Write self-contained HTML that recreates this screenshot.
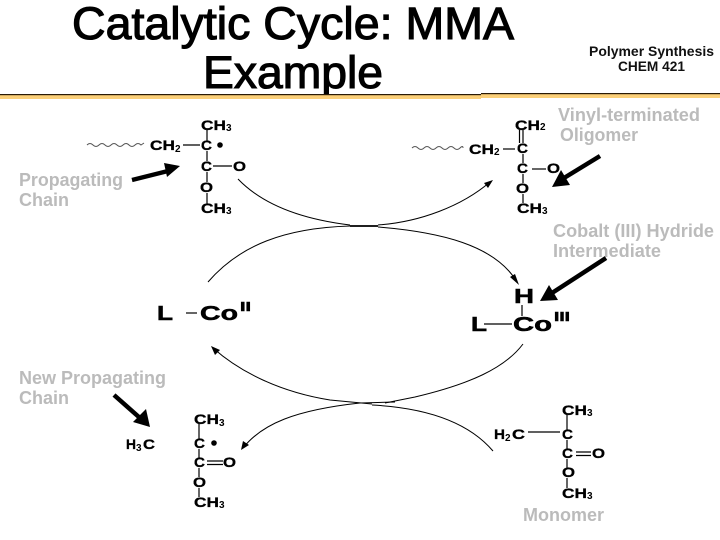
<!DOCTYPE html>
<html>
<head>
<meta charset="utf-8">
<style>
html,body{margin:0;padding:0;background:#fff;width:720px;height:540px;overflow:hidden}
svg{display:block}
text{font-family:"Liberation Sans",sans-serif}
.t{font-size:45px;font-weight:normal;fill:#000;stroke:#000;stroke-width:1.1}
.h{font-size:14px;font-weight:bold;fill:#111}
.g{font-size:18px;font-weight:bold;fill:#bbb}
.c{font-size:14px;font-weight:bold;fill:#000;stroke:#000;stroke-width:.3}
.s{font-size:10px;font-weight:bold;fill:#000}
.co{font-size:20px;font-weight:bold;fill:#000;stroke:#000;stroke-width:.5}
.b{stroke:#000;stroke-width:1.2;fill:none}
.a{stroke:#000;stroke-width:1;fill:none}
.k{stroke:#000;stroke-width:4.5;fill:none}
.w{stroke:#555;stroke-width:1;fill:none}
</style>
</head>
<body>
<svg width="720" height="540" viewBox="0 0 720 540" xmlns="http://www.w3.org/2000/svg">
<!-- title -->
<text class="t" x="72" y="39" textLength="442" lengthAdjust="spacingAndGlyphs">Catalytic Cycle: MMA</text>
<text class="t" x="203" y="88" textLength="180" lengthAdjust="spacingAndGlyphs">Example</text>
<text class="h" x="589" y="56" textLength="125" lengthAdjust="spacingAndGlyphs">Polymer Synthesis</text>
<text class="h" x="618" y="71" textLength="67" lengthAdjust="spacingAndGlyphs">CHEM 421</text>
<rect x="0" y="95" width="481" height="4" fill="#fbcf78"/>
<rect x="0" y="94" width="481" height="1.2" fill="#2a1a05"/>
<rect x="481" y="94" width="239" height="4" fill="#fbcf78"/>
<rect x="481" y="93" width="239" height="1.2" fill="#2a1a05"/>

<!-- gray labels -->
<text class="g" x="19" y="186" textLength="104" lengthAdjust="spacingAndGlyphs">Propagating</text>
<text class="g" x="19" y="206" textLength="50" lengthAdjust="spacingAndGlyphs">Chain</text>
<text class="g" x="558" y="121" textLength="142" lengthAdjust="spacingAndGlyphs">Vinyl-terminated</text>
<text class="g" x="560" y="141" textLength="78" lengthAdjust="spacingAndGlyphs">Oligomer</text>
<text class="g" x="553" y="237" textLength="161" lengthAdjust="spacingAndGlyphs">Cobalt (III) Hydride</text>
<text class="g" x="553" y="257" textLength="108" lengthAdjust="spacingAndGlyphs">Intermediate</text>
<text class="g" x="19" y="384" textLength="147" lengthAdjust="spacingAndGlyphs">New Propagating</text>
<text class="g" x="19" y="404" textLength="50" lengthAdjust="spacingAndGlyphs">Chain</text>
<text class="g" x="523" y="521" textLength="81" lengthAdjust="spacingAndGlyphs">Monomer</text>

<!-- thick arrows -->
<path class="k" d="M132 180 L168 171"/><polygon points="180,166 164,163 167,177" fill="#000"/>
<path class="k" d="M600 156 L564 178"/><polygon points="552,187 570,185 561,170" fill="#000"/>
<path class="k" d="M606 258 L552 293"/><polygon points="540,301 558,300 549,285" fill="#000"/>
<path class="k" d="M114 395 L140 418"/><polygon points="150,427 146,409 133,422" fill="#000"/>

<!-- cycle curves -->
<path class="a" d="M238 179 C262 204 300 219 350 225"/>
<path class="a" d="M208 282 C240 245 285 228 350 226"/>
<path class="k" style="stroke-width:1.8" d="M350 226 H378"/>
<path class="a" d="M378 225 C420 222 462 206 490 182"/><polygon points="493,180 484,183 488,188" fill="#000"/>
<path class="a" d="M378 227 C440 232 495 245 517 282"/><polygon points="519,285 510,277 515,274" fill="#000"/>
<path class="a" d="M523 344 C505 368 470 384 415 397 L385 403"/>
<path class="a" d="M213 348 C240 372 280 392 330 400 L372 404"/><polygon points="211,346 220,350 215,355" fill="#000"/>
<path class="a" d="M243 448 C262 424 295 410 360 403 L395 402"/><polygon points="241,450 243,441 249,445" fill="#000"/>
<path class="a" d="M372 405 C430 408 470 424 493 451"/>

<!-- structure 1 -->
<path class="w" d="M87 145 q3 -3 6 0 t6 0 t6 0 t6 0 t6 0 t6 0 t6 0 t6 0 t6 0 l3 -2"/>
<text class="c" x="150" y="150" textLength="25" lengthAdjust="spacingAndGlyphs">CH</text><text class="s" x="175" y="152">2</text>
<path class="b" d="M183 145 H200"/>
<text class="c" x="201" y="130" textLength="25" lengthAdjust="spacingAndGlyphs">CH</text><text class="s" x="226" y="131">3</text>
<text class="c" x="201" y="150" textLength="11" lengthAdjust="spacingAndGlyphs">C</text>
<circle cx="220" cy="145" r="2.8" fill="#000"/>
<text class="c" x="201" y="171" textLength="11" lengthAdjust="spacingAndGlyphs">C</text>
<path class="b" d="M213 166 H232"/>
<text class="c" x="233" y="171" textLength="13" lengthAdjust="spacingAndGlyphs">O</text>
<text class="c" x="200" y="192" textLength="13" lengthAdjust="spacingAndGlyphs">O</text>
<text class="c" x="201" y="213" textLength="25" lengthAdjust="spacingAndGlyphs">CH</text><text class="s" x="226" y="214">3</text>
<path class="b" d="M207 130 V141 M207 151 V161 M207 172 V182 M207 193 V204"/>

<!-- structure 2 -->
<path class="w" d="M412 148 q3 -3 6 0 t6 0 t6 0 t6 0 t6 0 t6 0 t6 0 t6 0 t3 0"/>
<text class="c" x="469" y="154" textLength="25" lengthAdjust="spacingAndGlyphs">CH</text><text class="s" x="494" y="155">2</text>
<path class="b" d="M503 149 H515"/>
<text class="c" x="515" y="130" textLength="25" lengthAdjust="spacingAndGlyphs">CH</text><text class="s" x="540" y="130">2</text>
<path class="b" d="M519.500 130 V143 M523 130 V143"/>
<text class="c" x="517" y="153" textLength="11" lengthAdjust="spacingAndGlyphs">C</text>
<text class="c" x="517" y="173" textLength="11" lengthAdjust="spacingAndGlyphs">C</text>
<path class="b" d="M532 169 H546"/>
<text class="c" x="547" y="173" textLength="13" lengthAdjust="spacingAndGlyphs">O</text>
<text class="c" x="516" y="193" textLength="13" lengthAdjust="spacingAndGlyphs">O</text>
<text class="c" x="517" y="213" textLength="25" lengthAdjust="spacingAndGlyphs">CH</text><text class="s" x="542" y="214">3</text>
<path class="b" d="M523 154 V163 M523 174 V183 M523 194 V203"/>

<!-- L-Co II -->
<text class="co" x="157" y="320" textLength="16" lengthAdjust="spacingAndGlyphs">L</text>
<path class="b" d="M186 313 H197"/>
<text class="co" x="200" y="320" textLength="38" lengthAdjust="spacingAndGlyphs">Co</text>
<text class="co" style="font-size:13px" x="240" y="311" textLength="11" lengthAdjust="spacingAndGlyphs">II</text>

<!-- H-Co III -->
<text class="co" x="514" y="303" textLength="20" lengthAdjust="spacingAndGlyphs">H</text>
<path class="b" d="M522 305 V316"/>
<text class="co" x="471" y="331" textLength="16" lengthAdjust="spacingAndGlyphs">L</text>
<path class="b" d="M484 324 H512"/>
<text class="co" x="513" y="331" textLength="39" lengthAdjust="spacingAndGlyphs">Co</text>
<text class="co" style="font-size:13px" x="554" y="321" textLength="16" lengthAdjust="spacingAndGlyphs">III</text>

<!-- structure 3 -->
<text class="c" x="126" y="449" textLength="10" lengthAdjust="spacingAndGlyphs">H</text><text class="s" x="136" y="451">3</text><text class="c" x="143" y="449" textLength="12" lengthAdjust="spacingAndGlyphs">C</text>
<text class="c" x="194" y="424" textLength="25" lengthAdjust="spacingAndGlyphs">CH</text><text class="s" x="219" y="426">3</text>
<text class="c" x="194" y="448" textLength="11" lengthAdjust="spacingAndGlyphs">C</text>
<circle cx="214" cy="443" r="2.8" fill="#000"/>
<text class="c" x="194" y="467" textLength="11" lengthAdjust="spacingAndGlyphs">C</text>
<path class="b" d="M207 461 H223 M207 464.500 H223"/>
<text class="c" x="223" y="467" textLength="13" lengthAdjust="spacingAndGlyphs">O</text>
<text class="c" x="193" y="487" textLength="13" lengthAdjust="spacingAndGlyphs">O</text>
<text class="c" x="194" y="507" textLength="25" lengthAdjust="spacingAndGlyphs">CH</text><text class="s" x="219" y="508">3</text>
<path class="b" d="M199 424 V439 M199 449 V458 M199 468 V477 M199 488 V497"/>

<!-- structure 4 -->
<text class="c" x="494" y="439" textLength="11" lengthAdjust="spacingAndGlyphs">H</text><text class="s" x="505" y="441">2</text><text class="c" x="512" y="439" textLength="13" lengthAdjust="spacingAndGlyphs">C</text>
<path class="b" d="M528 432 H560"/>
<text class="c" x="562" y="415" textLength="25" lengthAdjust="spacingAndGlyphs">CH</text><text class="s" x="587" y="416">3</text>
<text class="c" x="562" y="439" textLength="11" lengthAdjust="spacingAndGlyphs">C</text>
<text class="c" x="562" y="458" textLength="11" lengthAdjust="spacingAndGlyphs">C</text>
<path class="b" d="M576 452 H591 M576 455.500 H591"/>
<text class="c" x="592" y="458" textLength="13" lengthAdjust="spacingAndGlyphs">O</text>
<text class="c" x="562" y="477" textLength="13" lengthAdjust="spacingAndGlyphs">O</text>
<text class="c" x="562" y="498" textLength="25" lengthAdjust="spacingAndGlyphs">CH</text><text class="s" x="587" y="499">3</text>
<path class="b" d="M567 415 V430 M567 440 V449 M567 459 V468 M567 478 V488"/>
</svg>
</body>
</html>
